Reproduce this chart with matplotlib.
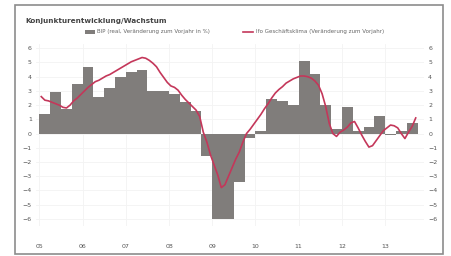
import numpy as np
import matplotlib.pyplot as plt
from matplotlib.patches import Rectangle

# quarterly GDP growth, 2005Q1 .. 2013Q3
bip = [1.4, 2.9, 1.75, 3.5, 4.65, 2.55, 3.2, 4.0,
       4.3, 4.45, 3.0, 3.0, 2.8, 2.2, 1.6, -1.6,
       -6.0, -6.0, -3.4, -0.3, 0.2, 2.4, 2.3, 2.0,
       5.1, 4.2, 2.0, 0.3, 1.85, 0.2, 0.45, 1.25,
       -0.1, 0.2, 0.75]

# monthly indicator, Jan 2005 .. Sep 2013
ifo = [2.6, 2.35, 2.3, 2.2, 2.1, 2.0, 1.85, 1.8, 2.0, 2.3, 2.5, 2.75,
       3.0, 3.25, 3.45, 3.65, 3.75, 3.9, 4.05, 4.15, 4.3, 4.45, 4.6, 4.75,
       4.9, 5.05, 5.15, 5.25, 5.35, 5.3, 5.15, 4.95, 4.7, 4.3, 3.95, 3.6,
       3.35, 3.25, 3.05, 2.7, 2.4, 2.15, 1.9, 1.65, 1.2, 0.1, -0.6, -1.5,
       -2.2, -2.9, -3.8, -3.6, -3.0, -2.4, -1.8, -1.3, -0.6, 0.0, 0.3, 0.65,
       1.0, 1.35, 1.75, 2.1, 2.5, 2.85, 3.1, 3.3, 3.55, 3.7, 3.85, 3.95,
       4.05, 4.05, 4.0, 3.9, 3.7, 3.4, 2.8, 1.9, 0.7, 0.0, -0.2, 0.1,
       0.25, 0.45, 0.75, 0.85, 0.4, -0.1, -0.55, -0.95, -0.85, -0.5, -0.15, 0.2,
       0.4, 0.6, 0.55, 0.4, 0.0, -0.35, 0.1, 0.5, 1.1]

years = ["05", "06", "07", "08", "09", "10", "11", "12", "13"]
yticks = list(range(-6, 7))

fig = plt.figure(figsize=(4.51, 2.56), dpi=100)
fig.patch.set_facecolor("white")

# outer frame
fig.patches.append(Rectangle((15 / 451, 2 / 256), 428 / 451, 249 / 256,
                             transform=fig.transFigure, fill=False,
                             edgecolor="#8c8c8c", linewidth=1.2))

fig.text(25 / 451, 1 - 21 / 256, "Konjunkturentwicklung/Wachstum",
         fontsize=5.2, fontweight="bold", color="#444444", va="center")

ax = fig.add_axes([36 / 451, 30 / 256, 388 / 451, 182 / 256])

xq = np.arange(len(bip)) + 0.5
xm = (np.arange(len(ifo)) + 0.5) / 3

bars = ax.bar(xq, bip, width=1.0, color="#807d7b", linewidth=0)
line, = ax.plot(xm, ifo, color="#c4375a", linewidth=1.2)

ax.set_xlim(-0.32, 35.6)
ax.set_ylim(-6.5, 6.3)
ax.set_xticks(np.arange(0, 36, 4))
ax.set_xticklabels(years)
ax.set_yticks(yticks)
ax.grid(True, color="#f3f3f3", linewidth=0.6)
ax.set_axisbelow(True)
for s in ax.spines.values():
    s.set_visible(False)
ax.tick_params(length=0, labelsize=4.5, labelcolor="#555555",
               labelright=True, pad=3)
ax.tick_params(axis="x", pad=13)

fig.legend([bars, line],
           ["BIP (real, Veränderung zum Vorjahr in %)",
            "Ifo Geschäftsklima (Veränderung zum Vorjahr)"],
           loc="center left", bbox_to_anchor=(85 / 451, 1 - 32 / 256), ncol=2,
           fontsize=4, frameon=False, handlelength=1.8, columnspacing=6,
           handletextpad=0.4, labelcolor="#666666", borderpad=0,
           borderaxespad=0)

fig.savefig("out.png", dpi=100)
